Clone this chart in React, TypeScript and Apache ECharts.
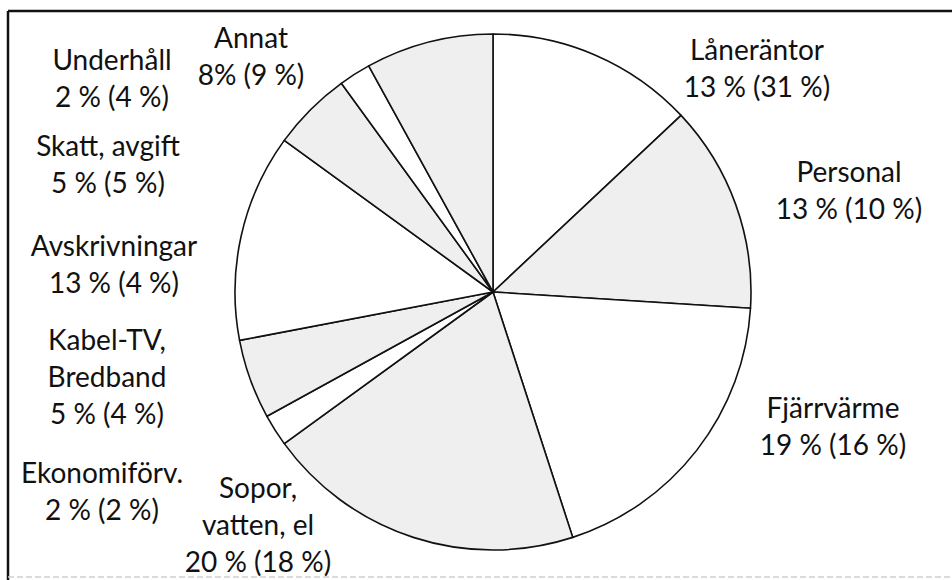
import React, { useEffect, useRef } from "react";
import * as echarts from "echarts";

const categories = [
  "Låneräntor",
  "Personal",
  "Fjärrvärme",
  "Sopor,\nvatten, el",
  "Ekonomiförv.",
  "Kabel-TV,\nBredband",
  "Avskrivningar",
  "Skatt, avgift",
  "Underhåll",
  "Annat",
];
const values = [13, 13, 19, 20, 2, 5, 13, 5, 2, 8];
const valueLabels = ["13 %", "13 %", "19 %", "20 %", "2 %", "5 %", "13 %", "5 %", "2 %", "8%"];
const previousLabels = ["31 %", "10 %", "16 %", "18 %", "2 %", "4 %", "4 %", "5 %", "4 %", "9 %"];

// label centre positions (layout only)
const labelPos: [number, number][] = [
  [757, 67],
  [849, 189],
  [833, 425],
  [258, 524],
  [102, 490],
  [107, 376],
  [114, 263],
  [108, 163],
  [112, 77],
  [251, 55],
];

const fills = ["#ffffff", "#efefef"];

export default function App() {
  const ref = useRef<HTMLDivElement>(null);
  useEffect(() => {
    if (!ref.current) return;
    const chart = echarts.init(ref.current, null, { renderer: "svg" });
    chart.setOption({
      animation: false,
      backgroundColor: "#ffffff",
      graphic: [
        { type: "line", shape: { x1: 8, y1: 11, x2: 952, y2: 11 }, style: { stroke: "#111", lineWidth: 2.5 } },
        { type: "line", shape: { x1: 8, y1: 11, x2: 8, y2: 580 }, style: { stroke: "#111", lineWidth: 2.5 } },
        { type: "line", shape: { x1: 8, y1: 577, x2: 952, y2: 577 }, style: { stroke: "#cfcfcf", lineWidth: 1.5, lineDash: [6, 3] } },
      ],
      series: [
        {
          type: "pie",
          center: [493, 292],
          radius: [0, 258],
          startAngle: 90,
          clockwise: true,
          avoidLabelOverlap: false,
          data: categories.map((name, i) => ({
            name,
            value: values[i],
            itemStyle: { color: fills[i % 2] },
          })),
          itemStyle: { borderColor: "#111", borderWidth: 1.6 },
          label: {
            show: true,
            position: "outside",
            formatter: (p: any) =>
              `${p.name}\n${valueLabels[p.dataIndex]} (${previousLabels[p.dataIndex]})`,
            fontFamily: "Lato",
            fontSize: 28,
            lineHeight: 37,
            color: "#111",
            align: "center",
          },
          labelLine: { show: false },
          labelLayout: (p: any) => ({
            x: labelPos[p.dataIndex][0],
            y: labelPos[p.dataIndex][1],
            align: "center",
            verticalAlign: "middle",
          }),
          emphasis: { disabled: true },
        },
      ],
    });
    return () => chart.dispose();
  }, []);
  return (
    <div
      ref={ref}
      style={{ position: "fixed", left: 0, top: 0, width: 952, height: 580 }}
    />
  );
}
